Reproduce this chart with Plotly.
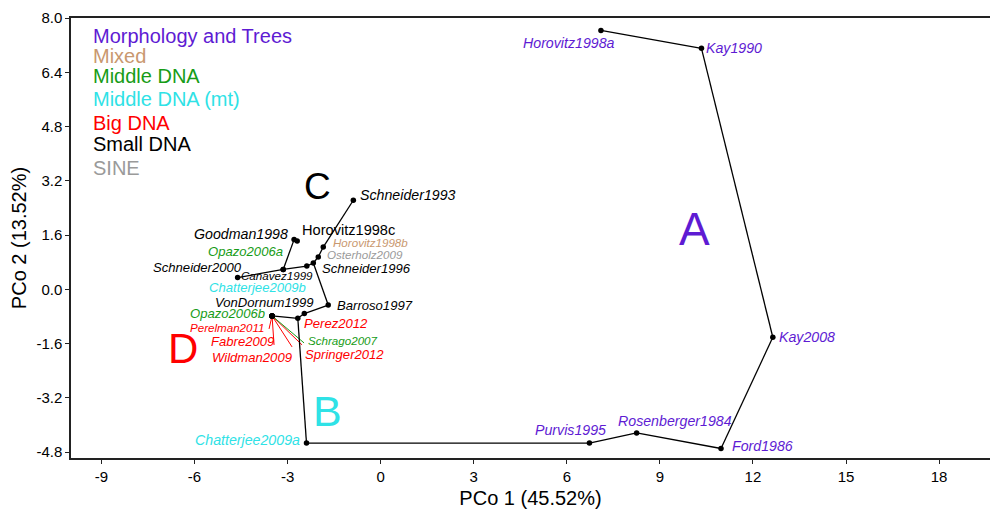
import plotly.graph_objects as go

# ---------------- data ----------------
study = ["Horovitz1998a", "Kay1990", "Kay2008", "Ford1986", "Rosenberger1984", "Purvis1995",
         "Chatterjee2009a", "Perez2012", "VonDornum1999", "Barroso1997", "Opazo2006b",
         "Perelman2011", "Fabre2009", "Wildman2009", "Springer2012", "Schrago2007",
         "Schneider1996", "Osterholz2009", "Horovitz1998b", "Schneider1993",
         "Canavez1999", "Opazo2006a", "Chatterjee2009b", "Schneider2000",
         "Goodman1998", "Horovitz1998c"]
pco1 = [7.10, 10.34, 12.64, 10.97, 8.25, 6.73,
        -2.39, -2.67, -2.46, -1.69, -3.50,
        -3.50, -3.50, -3.50, -3.50, -3.50,
        -2.17, -2.01, -1.85, -0.88,
        -2.38, -3.14, -3.14, -4.61,
        -2.79, -2.69]
pco2 = [7.64, 7.11, -1.41, -4.69, -4.23, -4.53,
        -4.53, -0.85, -0.71, -0.46, -0.78,
        -0.78, -0.78, -0.78, -0.78, -0.78,
        0.78, 0.96, 1.25, 2.63,
        0.69, 0.59, 0.59, 0.35,
        1.47, 1.43]
group = ["Morphology and Trees"] * 6 + ["Middle DNA (mt)", "Big DNA", "Small DNA", "Small DNA", "Middle DNA",
         "Big DNA", "Big DNA", "Big DNA", "Big DNA", "Middle DNA",
         "Small DNA", "SINE", "Mixed", "Small DNA",
         "Small DNA", "Middle DNA", "Middle DNA (mt)", "Small DNA",
         "Small DNA", "Small DNA"]

# minimum spanning tree edges
edges = [("Horovitz1998a", "Kay1990"), ("Kay1990", "Kay2008"), ("Kay2008", "Ford1986"),
         ("Ford1986", "Rosenberger1984"), ("Rosenberger1984", "Purvis1995"),
         ("Purvis1995", "Chatterjee2009a"), ("Chatterjee2009a", "Perez2012"),
         ("Perez2012", "VonDornum1999"), ("VonDornum1999", "Barroso1997"),
         ("Opazo2006b", "Perez2012"), ("Barroso1997", "Schneider1996"),
         ("Schneider1996", "Osterholz2009"), ("Osterholz2009", "Horovitz1998b"),
         ("Horovitz1998b", "Schneider1993"), ("Schneider1996", "Canavez1999"),
         ("Canavez1999", "Opazo2006a"), ("Opazo2006a", "Schneider2000"),
         ("Opazo2006a", "Goodman1998"), ("Goodman1998", "Horovitz1998c")]

legend_groups = ["Morphology and Trees", "Mixed", "Middle DNA", "Middle DNA (mt)", "Big DNA", "Small DNA", "SINE"]
cluster_names = ["A", "B", "C", "D"]
cluster_x = [10.10, -1.70, -2.02, -6.37]
cluster_y = [1.79, -3.57, 3.04, -1.74]

x_ticks = [-9, -6, -3, 0, 3, 6, 9, 12, 15, 18]
x_ticklabels = ["-9", "-6", "-3", "0", "3", "6", "9", "12", "15", "18"]
y_ticks = [-4.8, -3.2, -1.6, 0, 1.6, 3.2, 4.8, 6.4, 8.0]
y_ticklabels = ["-4.8", "-3.2", "-1.6", "0.0", "1.6", "3.2", "4.8", "6.4", "8.0"]

# ---------------- styles ----------------
colors = {"Morphology and Trees": "#5E1BD3", "Mixed": "#C9986F", "Middle DNA": "#179C17",
          "Middle DNA (mt)": "#2FE2E6", "Big DNA": "#FF0000", "Small DNA": "#000000", "SINE": "#9A9A9A"}
cluster_colors = ["#5E1BD3", "#2FE2E6", "#000000", "#FF0000"]
cluster_sizes = [46, 43, 37, 42]

L, M, S = 14.2, 13.1, 11.6
# label placement: (xshift px, yshift px, anchor, font size, italic)
label_style = {
    "Horovitz1998a": (16, -13, "right", L, True),
    "Kay1990": (3, 0, "left", L, True),
    "Kay2008": (4, 0, "left", L, True),
    "Ford1986": (9, 3, "left", L, True),
    "Rosenberger1984": (38, 12, "center", L, True),
    "Purvis1995": (19, 13, "right", L, True),
    "Chatterjee2009a": (-4, 3, "right", L, True),
    "Perez2012": (4, -5, "left", M, True),
    "VonDornum1999": (12, 11, "right", M, True),
    "Barroso1997": (7, 0, "left", M, True),
    "Opazo2006b": (-5, 2, "right", M, True),
    "Perelman2011": (-5, -12, "right", S, True),
    "Fabre2009": (5, -26, "right", M, True),
    "Wildman2009": (23, -42, "right", M, True),
    "Springer2012": (31, -39, "left", M, True),
    "Schrago2007": (34, -25, "left", S, True),
    "Schneider1996": (7, -5, "left", M, True),
    "Osterholz2009": (7, 2, "left", S, True),
    "Horovitz1998b": (8, 5, "left", S, True),
    "Schneider1993": (5, 5, "left", L, True),
    "Canavez1999": (8, -9, "right", S, True),
    "Opazo2006a": (2, 18, "right", M, True),
    "Chatterjee2009b": (25, -18, "right", M, True),
    "Schneider2000": (6, 10, "right", M, True),
    "Goodman1998": (-4, 6, "right", L, True),
    "Horovitz1998c": (3, 11, "left", 14.6, False),
}
# repel leader segments (pixel offsets from the point)
leaders = {"Perelman2011": (-3, 13), "Fabre2009": (2, 29), "Wildman2009": (20, 31),
           "Springer2012": (30, 29), "Schrago2007": (32, 27)}

FONT = "Liberation Sans, Arial, sans-serif"
idx = {s: i for i, s in enumerate(study)}

fig = go.Figure()

# tree edges
ex, ey = [], []
for a, b in edges:
    ex += [pco1[idx[a]], pco1[idx[b]], None]
    ey += [pco2[idx[a]], pco2[idx[b]], None]
fig.add_trace(go.Scatter(x=ex, y=ey, mode="lines", line=dict(color="black", width=1.3),
                         hoverinfo="skip", showlegend=False))

# leader segments
for name, (dx, dy) in leaders.items():
    i = idx[name]
    fig.add_shape(type="line", xref="x", yref="y", xsizemode="pixel", ysizemode="pixel",
                  xanchor=pco1[i], yanchor=pco2[i], x0=0, y0=0, x1=dx, y1=-dy,
                  line=dict(color=colors[group[i]], width=1), layer="below")

# points
fig.add_trace(go.Scatter(x=pco1, y=pco2, mode="markers", text=study,
                         marker=dict(color="black", size=5.5), showlegend=False))

# point labels
for i, s in enumerate(study):
    xs, ys, anc, fs, it = label_style[s]
    fig.add_annotation(x=pco1[i], y=pco2[i], text=(f"<i>{s}</i>" if it else s), showarrow=False,
                       xanchor=anc, yanchor="middle", xshift=xs, yshift=ys,
                       font=dict(family=FONT, size=fs, color=colors[group[i]]))

# group text legend
legend_y = [36, 55.7, 76, 98.7, 122.7, 144.3, 167.7]
for g, py in zip(legend_groups, legend_y):
    fig.add_annotation(x=(91 - 71) / 919, y=(458 - py) / 440, xref="paper", yref="paper",
                       text=g, showarrow=False, xanchor="left", yanchor="middle",
                       font=dict(family=FONT, size=20, color=colors[g]))

# cluster letters
for n, cx, cy, cc, cs in zip(cluster_names, cluster_x, cluster_y, cluster_colors, cluster_sizes):
    fig.add_annotation(x=cx, y=cy, text=n, showarrow=False, xanchor="center", yanchor="middle",
                       font=dict(family=FONT, size=cs, color=cc))

fig.update_layout(
    width=990, height=510,
    margin=dict(l=71, r=0, t=18, b=52),
    plot_bgcolor="white", paper_bgcolor="white",
    font=dict(family=FONT, size=15, color="black"),
    xaxis=dict(range=[-9.98, 19.64], tickmode="array", tickvals=x_ticks, ticktext=x_ticklabels,
               showgrid=False, zeroline=False, showline=True, mirror=True, linecolor="#222",
               linewidth=1.5, ticks="outside", ticklen=4, tickcolor="#222",
               title=dict(text="PCo 1 (45.52%)", font=dict(size=20), standoff=7)),
    yaxis=dict(range=[-4.97, 8.005], tickmode="array", tickvals=y_ticks, ticktext=y_ticklabels,
               showgrid=False, zeroline=False, showline=True, linecolor="#222", linewidth=1.5,
               ticks="outside", ticklen=4, tickcolor="#222",
               title=dict(text="PCo 2 (13.52%)", font=dict(size=20), standoff=4)),
)

fig.write_html("out.html", config={"displayModeBar": False})
with open("out.html", encoding="utf-8") as f:
    html = f.read()
html = html.replace("<head>", "<head><style>html,body{margin:0;padding:0;overflow:hidden}</style>", 1)
with open("out.html", "w", encoding="utf-8") as f:
    f.write(html)
